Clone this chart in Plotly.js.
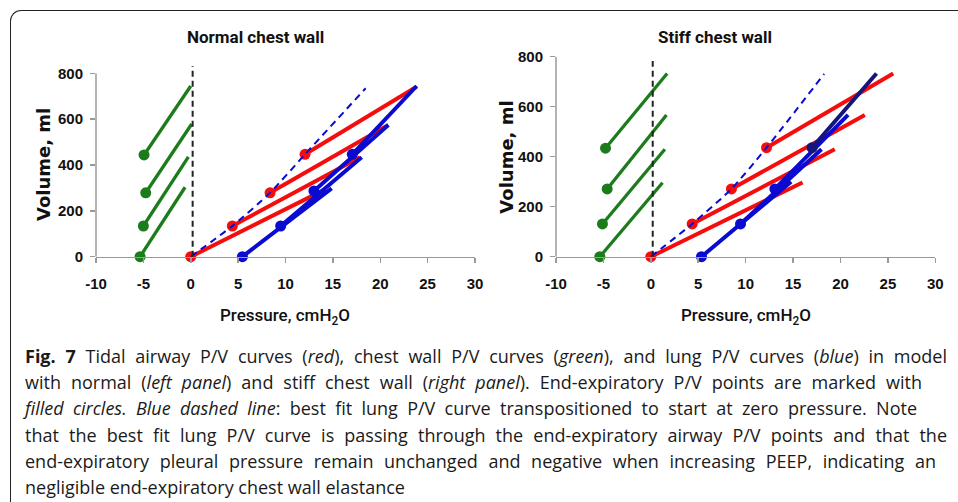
<!DOCTYPE html>
<html>
<head>
<meta charset="utf-8">
<script src="https://cdn.plot.ly/plotly-3.0.1.min.js"></script>
<style>
  html, body { margin: 0; padding: 0; background: #fff; }
  #wrap { position: relative; width: 958px; height: 502px; overflow: hidden; }
  #chart { position: absolute; left: 0; top: 0; width: 958px; height: 502px; }
  #frame { position: absolute; left: 10px; top: 10px; width: 980px; height: 520px;
           border-left: 1.6px solid #222; border-top: 1.6px solid #222; border-top-left-radius: 11px; }
  #caption { position: absolute; left: 25px; top: 342.5px; width: 940px;
             font-family: "Open Sans", sans-serif; font-size: 18px; color: #1a1a1a; }
  #caption div { height: 26.4px; line-height: 26.4px; white-space: nowrap; }
  #caption span.ln { display: inline-block; transform-origin: 0 50%; }
</style>
</head>
<body>
<div id="wrap">
  <div id="chart"></div>
  <div id="frame"></div>
  <div id="caption">
    <div data-right="947" data-just="1"><span class="ln"><b>Fig. 7</b> Tidal airway P/V curves (<i>red</i>), chest wall P/V curves (<i>green</i>), and lung P/V curves (<i>blue</i>) in model</span></div>
    <div data-right="922" data-just="1"><span class="ln">with normal (<i>left panel</i>) and stiff chest wall (<i>right panel</i>). End-expiratory P/V points are marked with</span></div>
    <div data-right="917" data-just="1"><span class="ln"><i>filled circles. Blue dashed line</i>: best fit lung P/V curve transpositioned to start at zero pressure. Note</span></div>
    <div data-right="947" data-just="1"><span class="ln">that the best fit lung P/V curve is passing through the end-expiratory airway P/V points and that the</span></div>
    <div data-right="936" data-just="1"><span class="ln">end-expiratory pleural pressure remain unchanged and negative when increasing PEEP, indicating an</span></div>
    <div data-right="432" data-just="0"><span class="ln">negligible end-expiratory chest wall elastance</span></div>
  </div>
</div>
<script>
// ---------- Data (pressure cmH2O, volume ml) ----------
// Normal chest wall
const normGreenStartP = [-5.35, -5.0, -4.75, -4.93];
const normGreenStartV = [0, 134, 279, 444];
const normGreenEndP   = [-0.6, -0.25, 0.1, 0.0];
const normGreenEndV   = [303, 436, 579, 745];

const normRedStartP = [0, 4.39, 8.37, 12.06];
const normRedStartV = [0, 134, 279, 447];
const normRedEndP   = [14.24, 17.86, 20.85, 23.84];
const normRedEndV   = [295, 434, 575, 742];

const normBlueStartP = [5.45, 9.49, 13.0, 17.05];
const normBlueStartV = [0, 134, 287, 447];
const normBlueEndP   = [14.87, 18.04, 20.85, 23.84];
const normBlueEndV   = [298, 434, 575, 745];

const normFitP = [0, 4.39, 8.37, 12.06, 18.46];
const normFitV = [0, 134, 279, 447, 735];

const normZeroP = [0.2, 0.2];
const normZeroV = [0, 832];

// Stiff chest wall
const stiffGreenStartP = [-5.38, -5.1, -4.6, -4.78];
const stiffGreenStartV = [0, 131, 271, 434];
const stiffGreenEndP   = [1.23, 1.48, 1.65, 1.72];
const stiffGreenEndV   = [296, 430, 567, 733];

const stiffRedStartP = [0, 4.36, 8.5, 12.2];
const stiffRedStartV = [0, 131, 271, 436];
const stiffRedEndP   = [16.0, 19.4, 22.57, 25.56];
const stiffRedEndV   = [297, 430, 567, 733];

const stiffBlueStartP = [5.34, 9.46, 13.08, 17.0];
const stiffBlueStartV = [0, 131, 271, 436];
const stiffBlueEndP   = [14.8, 18.0, 20.8, 23.8];
const stiffBlueEndV   = [300, 430, 567, 733];

const stiffFitP = [0, 4.36, 8.5, 12.2, 18.28];
const stiffFitV = [0, 131, 271, 436, 731];

const stiffZeroP = [0.2, 0.2];
const stiffZeroV = [0, 783];

const xTicks = [-10, -5, 0, 5, 10, 15, 20, 25, 30];
const yTicks = [0, 200, 400, 600, 800];

// ---------- Helpers ----------
const GREEN = '#1c7c1c', RED = '#f50d0d', BLUE = '#0a0ad0', NAVY = '#15157a';

function segX(s, e) { const o = []; s.forEach((v, i) => { o.push(v, e[i], null); }); return o; }

function segTraces(sp, sv, ep, ev, color, width, xa, ya) {
  return [
    { x: segX(sp, ep), y: segX(sv, ev), mode: 'lines', xaxis: xa, yaxis: ya,
      line: { color: color, width: width }, hoverinfo: 'skip', showlegend: false },
    { x: sp, y: sv, mode: 'markers', xaxis: xa, yaxis: ya, cliponaxis: false,
      marker: { color: color, size: 11 }, hoverinfo: 'skip', showlegend: false }
  ];
}

const traces = [];
// left
traces.push(...segTraces(normGreenStartP, normGreenStartV, normGreenEndP, normGreenEndV, GREEN, 3.3, 'x', 'y'));
traces.push(...segTraces(normRedStartP, normRedStartV, normRedEndP, normRedEndV, RED, 4, 'x', 'y'));
traces.push(...segTraces(normBlueStartP, normBlueStartV, normBlueEndP, normBlueEndV, BLUE, 4, 'x', 'y'));
traces.push({ x: normFitP, y: normFitV, mode: 'lines', xaxis: 'x', yaxis: 'y', line: { color: BLUE, width: 2, dash: '7px,5px', shape: 'spline', smoothing: 0.6 }, showlegend: false, hoverinfo: 'skip' });
traces.push({ x: normZeroP, y: normZeroV, mode: 'lines', xaxis: 'x', yaxis: 'y', line: { color: '#222', width: 2, dash: '6px,4px' }, showlegend: false, hoverinfo: 'skip' });
// right
traces.push(...segTraces(stiffGreenStartP, stiffGreenStartV, stiffGreenEndP, stiffGreenEndV, GREEN, 3.3, 'x2', 'y2'));
traces.push(...segTraces(stiffRedStartP, stiffRedStartV, stiffRedEndP, stiffRedEndV, RED, 4, 'x2', 'y2'));
traces.push(...segTraces(stiffBlueStartP.slice(0, 3), stiffBlueStartV.slice(0, 3), stiffBlueEndP.slice(0, 3), stiffBlueEndV.slice(0, 3), BLUE, 4, 'x2', 'y2'));
traces.push(...segTraces(stiffBlueStartP.slice(3), stiffBlueStartV.slice(3), stiffBlueEndP.slice(3), stiffBlueEndV.slice(3), NAVY, 4, 'x2', 'y2'));
traces.push({ x: stiffFitP, y: stiffFitV, mode: 'lines', xaxis: 'x2', yaxis: 'y2', line: { color: BLUE, width: 2, dash: '7px,5px', shape: 'spline', smoothing: 0.6 }, showlegend: false, hoverinfo: 'skip' });
traces.push({ x: stiffZeroP, y: stiffZeroV, mode: 'lines', xaxis: 'x2', yaxis: 'y2', line: { color: '#222', width: 2, dash: '6px,4px' }, showlegend: false, hoverinfo: 'skip' });

const tickFont = { family: 'Liberation Sans, Arial, sans-serif', size: 15, color: '#111', weight: 'bold' };
function xAxis(domain, yref) {
  return { domain: domain, range: [-10, 30], tickvals: xTicks, ticktext: xTicks.map(String),
    showline: true, linecolor: '#9a9a9a', linewidth: 1.5, ticks: 'outside', ticklen: 5,
    tickcolor: '#9a9a9a', tickwidth: 1.5, showgrid: false, zeroline: false, anchor: yref,
    tickfont: tickFont, ticklabelstandoff: 8, fixedrange: true };
}
function yAxis(domain, range, xref) {
  return { domain: domain, range: range, tickvals: yTicks, ticktext: yTicks.map(String),
    showline: false, ticks: 'outside', ticklen: 5, tickcolor: '#9a9a9a', tickwidth: 1.5,
    showgrid: false, zeroline: false, anchor: xref, tickfont: tickFont, ticklabelstandoff: 4, fixedrange: true };
}

const titleFont = { family: 'Roboto, Liberation Sans, sans-serif', size: 17, color: '#111', weight: 'bold' };
const xTitleFont = { family: 'Roboto, Liberation Sans, sans-serif', size: 17, color: '#111', weight: 500 };
const yTitleFont = { family: 'DejaVu Sans, sans-serif', size: 18, color: '#111', weight: 'bold' };

const layout = {
  width: 958, height: 502, margin: { l: 0, r: 0, t: 0, b: 0 },
  paper_bgcolor: 'rgba(0,0,0,0)', plot_bgcolor: 'rgba(0,0,0,0)', showlegend: false,
  xaxis: xAxis([0.10021, 0.49582], 'y'),
  yaxis: yAxis([0.48865, 0.87205], [0, 840], 'x'),
  xaxis2: xAxis([0.58038, 0.97630], 'y2'),
  yaxis2: yAxis([0.48865, 0.88954], [0, 805], 'x2'),
  shapes: [
    { type: 'line', xref: 'x domain', yref: 'y', x0: 0, x1: 0, y0: 0, y1: 800, line: { color: '#9a9a9a', width: 1.5 } },
    { type: 'line', xref: 'x2 domain', yref: 'y2', x0: 0, x1: 0, y0: 0, y1: 800, line: { color: '#9a9a9a', width: 1.5 } }
  ],
  annotations: [
    { text: 'Normal chest wall', xref: 'paper', yref: 'paper', x: 0.2667, y: 0.9269, xanchor: 'center', yanchor: 'middle', showarrow: false, font: titleFont },
    { text: 'Stiff chest wall', xref: 'paper', yref: 'paper', x: 0.7463, y: 0.9257, xanchor: 'center', yanchor: 'middle', showarrow: false, font: titleFont },
    { text: 'Volume, ml', xref: 'paper', yref: 'paper', x: 0.0449, y: 0.6713, xanchor: 'center', yanchor: 'middle', textangle: -90, showarrow: false, font: yTitleFont },
    { text: 'Volume, ml', xref: 'paper', yref: 'paper', x: 0.5289, y: 0.6873, xanchor: 'center', yanchor: 'middle', textangle: -90, showarrow: false, font: yTitleFont },
    { text: 'Pressure, cmH<sub>2</sub>O', xref: 'paper', yref: 'paper', x: 0.298, y: 0.3705, xanchor: 'center', yanchor: 'middle', showarrow: false, font: xTitleFont },
    { text: 'Pressure, cmH<sub>2</sub>O', xref: 'paper', yref: 'paper', x: 0.7784, y: 0.3705, xanchor: 'center', yanchor: 'middle', showarrow: false, font: xTitleFont }
  ]
};

Plotly.newPlot('chart', traces, layout, { staticPlot: true, displayModeBar: false });

// Justify caption lines to the reference line ends
function fitCaption() {
  const left = 25;
  document.querySelectorAll('#caption > div').forEach(div => {
    const span = div.querySelector('span.ln');
    const target = parseFloat(div.dataset.right) - left;
    const w = span.getBoundingClientRect().width;
    const spaces = (span.textContent.match(/ /g) || []).length;
    if (w < target && div.dataset.just === '1' && spaces > 0) {
      span.style.wordSpacing = ((target - w) / spaces) + 'px';
    } else if (w > target) {
      span.style.transform = 'scaleX(' + (target / w) + ')';
    }
  });
}
if (document.fonts && document.fonts.ready) { document.fonts.ready.then(fitCaption); } else { fitCaption(); }
</script>
</body>
</html>
